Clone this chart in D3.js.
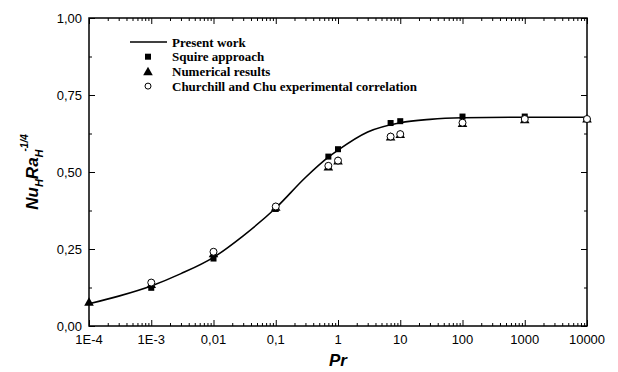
<!DOCTYPE html>
<html>
<head>
<meta charset="utf-8">
<script src="https://cdn.jsdelivr.net/npm/d3@7"></script>
<style>
body { margin: 0; background: #fff; }
</style>
</head>
<body>
<div id="chart"></div>
<script>
// values
var prTicks = [1e-4, 1e-3, 0.01, 0.1, 1, 10, 100, 1000, 10000];
var prTickLabels = ["1E-4", "1E-3", "0,01", "0,1", "1", "10", "100", "1000", "10000"];
var yTicks = [0, 0.25, 0.5, 0.75, 1];

// present work (solid line)
var curvePr = [1e-4, 3e-4, 1e-3, 3e-3, 0.01, 0.03, 0.1, 0.3, 0.7, 1, 3, 10, 30, 100, 1000, 10000];
var curveNu = [0.072, 0.097, 0.130, 0.170, 0.223, 0.293, 0.383, 0.482, 0.548, 0.571, 0.630, 0.660, 0.671, 0.676, 0.678, 0.678];

// Squire approach
var squirePr = [1e-3, 0.01, 0.1, 0.7, 1, 7, 10, 100, 1000];
var squireNu = [0.124, 0.219, 0.380, 0.550, 0.574, 0.659, 0.665, 0.680, 0.680];

// Numerical results
var numPr = [1e-4, 1e-3, 0.01, 0.1, 0.7, 1, 7, 10, 100, 1000, 10000];
var numNu = [0.075, 0.132, 0.232, 0.383, 0.514, 0.533, 0.611, 0.619, 0.655, 0.667, 0.670];

// Churchill and Chu experimental correlation
var chuPr = [1e-3, 0.01, 0.1, 0.7, 1, 7, 10, 100, 1000, 10000];
var chuNu = [0.141, 0.241, 0.388, 0.520, 0.537, 0.615, 0.623, 0.660, 0.672, 0.672];

var width = 618, height = 372;
var mLeft = 89, mRight = 587, mTop = 18, mBottom = 326;

var svg = d3.select("#chart").append("svg")
    .attr("width", width)
    .attr("height", height);

var x = d3.scaleLog().domain([1e-4, 1e4]).range([mLeft, mRight]);
var y = d3.scaleLinear().domain([0, 1]).range([mBottom, mTop]);

// minor ticks
var minorX = [];
prTicks.slice(0, -1).forEach(function(p) {
    for (var k = 2; k <= 9; k++) minorX.push(p * k);
});
var minorY = [0.125, 0.375, 0.625, 0.875];

var axisFont = "'Liberation Sans', Arial, sans-serif";

function drawAxis(axis, transform) {
    var g = svg.append("g").attr("transform", transform).call(axis);
    g.select(".domain").remove();
    g.selectAll("line").attr("stroke", "#000").attr("stroke-width", 1);
    g.selectAll("text").remove();
    return g;
}

// bottom & top, major & minor (inward)
drawAxis(d3.axisBottom(x).tickValues(prTicks).tickSizeInner(-6).tickSizeOuter(0), "translate(0," + mBottom + ")");
drawAxis(d3.axisBottom(x).tickValues(minorX).tickSizeInner(-3).tickSizeOuter(0), "translate(0," + mBottom + ")");
drawAxis(d3.axisTop(x).tickValues(prTicks).tickSizeInner(-6).tickSizeOuter(0), "translate(0," + mTop + ")");
drawAxis(d3.axisTop(x).tickValues(minorX).tickSizeInner(-3).tickSizeOuter(0), "translate(0," + mTop + ")");
drawAxis(d3.axisLeft(y).tickValues(yTicks).tickSizeInner(-6).tickSizeOuter(0), "translate(" + mLeft + ",0)");
drawAxis(d3.axisLeft(y).tickValues(minorY).tickSizeInner(-3).tickSizeOuter(0), "translate(" + mLeft + ",0)");
drawAxis(d3.axisRight(y).tickValues(yTicks).tickSizeInner(-6).tickSizeOuter(0), "translate(" + mRight + ",0)");
drawAxis(d3.axisRight(y).tickValues(minorY).tickSizeInner(-3).tickSizeOuter(0), "translate(" + mRight + ",0)");

// frame
svg.append("rect")
    .attr("x", mLeft).attr("y", mTop)
    .attr("width", mRight - mLeft).attr("height", mBottom - mTop)
    .attr("fill", "none").attr("stroke", "#000").attr("stroke-width", 1.5);

// tick labels
svg.append("g").selectAll("text")
    .data(prTicks)
    .enter().append("text")
    .attr("x", function(d) { return x(d); })
    .attr("y", mBottom + 18)
    .attr("text-anchor", "middle")
    .style("font-family", axisFont)
    .style("font-size", "13px")
    .text(function(d, i) { return prTickLabels[i]; });

svg.append("g").selectAll("text")
    .data(yTicks)
    .enter().append("text")
    .attr("x", mLeft - 7)
    .attr("y", function(d) { return y(d); })
    .attr("dy", "0.35em")
    .attr("text-anchor", "end")
    .style("font-family", axisFont)
    .style("font-size", "13px")
    .text(function(d) { return d3.format(".2f")(d).replace(".", ","); });

// axis titles
svg.append("text")
    .attr("x", (mLeft + mRight) / 2)
    .attr("y", 366)
    .attr("text-anchor", "middle")
    .style("font-family", axisFont)
    .style("font-size", "17px")
    .style("font-weight", "bold")
    .style("font-style", "italic")
    .text("Pr");

var ylab = svg.append("text")
    .attr("transform", "translate(38,172) rotate(-90)")
    .attr("text-anchor", "middle")
    .style("font-family", axisFont)
    .style("font-size", "17px")
    .style("font-weight", "bold")
    .style("font-style", "italic");
ylab.append("tspan").text("Nu");
ylab.append("tspan").attr("dy", 5).style("font-size", "11px").text("H");
ylab.append("tspan").attr("dy", -5).text("Ra");
ylab.append("tspan").attr("dy", 5).style("font-size", "11px").text("H");
ylab.append("tspan").attr("dy", -15).attr("dx", -2).style("font-size", "10px").text("-1/4");

// curve
var line = d3.line()
    .x(function(d) { return x(d[0]); })
    .y(function(d) { return y(d[1]); })
    .curve(d3.curveMonotoneX);

svg.append("path")
    .datum(d3.zip(curvePr, curveNu))
    .attr("d", line)
    .attr("fill", "none")
    .attr("stroke", "#000")
    .attr("stroke-width", 1.6);

var plot = svg.append("g");

// Numerical results: triangles
plot.selectAll("path.tri")
    .data(d3.zip(numPr, numNu))
    .enter().append("path")
    .attr("class", "tri")
    .attr("d", d3.symbol().type(d3.symbolTriangle).size(40))
    .attr("transform", function(d) { return "translate(" + x(d[0]) + "," + y(d[1]) + ")"; })
    .attr("fill", "#000");

// Squire: squares
plot.selectAll("rect.sq")
    .data(d3.zip(squirePr, squireNu))
    .enter().append("rect")
    .attr("class", "sq")
    .attr("x", function(d) { return x(d[0]) - 3; })
    .attr("y", function(d) { return y(d[1]) - 3; })
    .attr("width", 6).attr("height", 6)
    .attr("fill", "#000");

// Churchill and Chu: open circles
plot.selectAll("circle")
    .data(d3.zip(chuPr, chuNu))
    .enter().append("circle")
    .attr("cx", function(d) { return x(d[0]); })
    .attr("cy", function(d) { return y(d[1]); })
    .attr("r", 3.5)
    .attr("fill", "#fff")
    .attr("stroke", "#000")
    .attr("stroke-width", 1);

// legend
var legendItems = ["Present work", "Squire approach", "Numerical results", "Churchill and Chu experimental correlation"];
var legend = svg.append("g");
legendItems.forEach(function(name, i) {
    var ly = 42 + i * 14.7;
    legend.append("text")
        .attr("x", 172).attr("y", ly)
        .attr("dy", "0.35em")
        .style("font-family", "'Liberation Serif', 'Times New Roman', serif")
        .style("font-size", "13px")
        .style("font-weight", "bold")
        .text(name);
});
legend.append("line")
    .attr("x1", 130).attr("x2", 167).attr("y1", 42).attr("y2", 42)
    .attr("stroke", "#000").attr("stroke-width", 1.6);
legend.append("rect")
    .attr("x", 145).attr("y", 56.7 - 3).attr("width", 6).attr("height", 6)
    .attr("fill", "#000");
legend.append("path")
    .attr("d", d3.symbol().type(d3.symbolTriangle).size(40))
    .attr("transform", "translate(148," + (71.4 + 1) + ")")
    .attr("fill", "#000");
legend.append("circle")
    .attr("cx", 148).attr("cy", 86.1).attr("r", 3)
    .attr("fill", "#fff").attr("stroke", "#000");
</script>
</body>
</html>
